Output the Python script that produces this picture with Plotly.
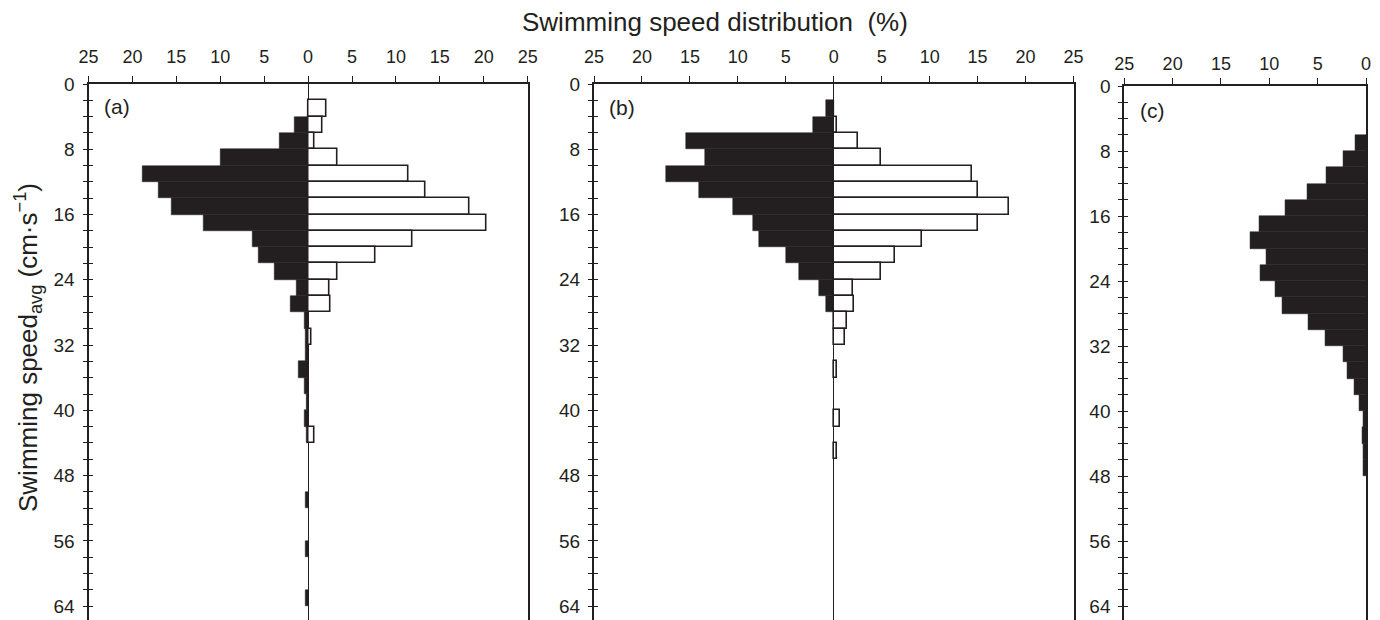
import plotly.graph_objects as go

# ---- data (bins of 2 cm/s, value = % of observations) ----
bin_start = list(range(0, 64, 2))

a_left = [0, 0, 1.5, 3.2, 10.0, 18.8, 17.0, 15.6, 11.9, 6.3, 5.7, 3.8, 1.3, 2.0, 0.4, 0.3,
          0.3, 1.1, 0.4, 0.2, 0.4, 0.2, 0, 0, 0, 0.3, 0, 0, 0.3, 0, 0, 0.3]
a_right = [0, 2.1, 1.6, 0.7, 3.3, 11.4, 13.4, 18.4, 20.3, 11.9, 7.7, 3.3, 2.4, 2.5, 0, 0.4,
           0, 0, 0, 0, 0, 0.75, 0, 0, 0, 0, 0, 0, 0, 0, 0, 0]
b_left = [0, 0.8, 2.2, 15.4, 13.4, 17.5, 14.0, 10.5, 8.4, 7.8, 5.0, 3.6, 1.5, 0.8, 0, 0,
          0, 0, 0, 0, 0, 0, 0, 0, 0, 0, 0, 0, 0, 0, 0, 0]
b_right = [0, 0, 0.3, 2.5, 4.9, 14.4, 15.0, 18.3, 15.0, 9.2, 6.4, 4.9, 2.0, 2.1, 1.4, 1.15,
           0, 0.3, 0, 0, 0.6, 0, 0.3, 0, 0, 0, 0, 0, 0, 0, 0, 0]
c_vals = [0, 0, 0, 1.15, 2.3, 4.1, 6.1, 8.3, 11.0, 12.0, 10.3, 10.9, 9.4, 8.7, 5.95, 4.2,
          2.3, 1.9, 1.2, 0.7, 0.3, 0.4, 0.25, 0.25, 0, 0, 0, 0, 0, 0, 0, 0]

y_ticks = list(range(0, 65, 8))
x_ticks_ab = [-25, -20, -15, -10, -5, 0, 5, 10, 15, 20, 25]
x_ticks_c = [25, 20, 15, 10, 5, 0]

# ---- style ----
W, H = 1380, 620
INK = '#231f20'
FONT = 'Liberation Sans, Arial, Helvetica, sans-serif'
BIN_W = 2
centers = [b + BIN_W / 2 for b in bin_start]


def nz(vals, sign=1):
    return [sign * v if v else None for v in vals]


fig = go.Figure()

black = dict(color=INK, line=dict(color=INK, width=0.5))
white = dict(color='white', line=dict(color=INK, width=1.6))

for left, right, xa, ya in [(a_left, a_right, 'x', 'y'), (b_left, b_right, 'x2', 'y2')]:
    fig.add_trace(go.Bar(y=centers, x=nz(left, -1), orientation='h', width=BIN_W,
                         marker=black, xaxis=xa, yaxis=ya, hoverinfo='skip'))
    fig.add_trace(go.Bar(y=centers, x=nz(right), orientation='h', width=BIN_W,
                         marker=white, xaxis=xa, yaxis=ya, hoverinfo='skip'))
fig.add_trace(go.Bar(y=centers, x=nz(c_vals), orientation='h', width=BIN_W,
                     marker=black, xaxis='x3', yaxis='y3', hoverinfo='skip'))

# invisible traces for the overlay (inside-tick) axes
for xa, ya in [('x', 'y4'), ('x2', 'y5'), ('x3', 'y6')]:
    fig.add_trace(go.Scatter(x=[None], y=[None], xaxis=xa, yaxis=ya,
                             mode='markers', showlegend=False, hoverinfo='skip'))

YR = [65.7, 0]
dom_x = {'a': [88.5 / W, 527.7 / W], 'b': [594 / W, 1073.5 / W], 'c': [1124.3 / W, 1366 / W]}
dom_y_ab = [0, 1 - 84 / H]
dom_y_c = [0, 1 - 86 / H]


def xaxis(domain, anchor, rng, tickvals, zeroline, standoff):
    return dict(domain=domain, anchor=anchor, side='top', range=rng, automargin=False,
                tickvals=tickvals, ticktext=[str(abs(v)) for v in tickvals],
                ticks='outside', ticklen=6, tickwidth=1.3, tickcolor=INK,
                showline=True, linecolor=INK, linewidth=2, mirror=False,
                showgrid=False, zeroline=zeroline, zerolinecolor=INK, zerolinewidth=1,
                tickfont=dict(family=FONT, size=18, color=INK),
                ticklabelstandoff=standoff, fixedrange=True)


def yaxis(domain, anchor):
    return dict(domain=domain, anchor=anchor, range=YR, tickvals=y_ticks, automargin=False,
                ticks='outside', ticklen=4, tickwidth=1.3, tickcolor=INK,
                minor=dict(dtick=2, tick0=0, ticks='outside', ticklen=4, tickwidth=1.3, tickcolor=INK),
                showline=True, linecolor=INK, linewidth=2, mirror=True,
                showgrid=False, zeroline=False, tickfont=dict(family=FONT, size=19, color=INK),
                ticklabelstandoff=4, fixedrange=True)


def yoverlay(base, anchor):
    return dict(overlaying=base, anchor=anchor, side='left', range=YR, tickvals=y_ticks,
                automargin=False,
                ticks='inside', ticklen=4, tickwidth=1.3, tickcolor=INK,
                minor=dict(dtick=2, tick0=0, ticks='inside', ticklen=4, tickwidth=1.3, tickcolor=INK),
                showticklabels=False, showline=False, showgrid=False, zeroline=False,
                fixedrange=True)


fig.update_layout(
    width=W, height=H, margin=dict(l=0, r=0, t=0, b=0, pad=0, autoexpand=False),
    paper_bgcolor='white', plot_bgcolor='white', showlegend=False,
    barmode='overlay', bargap=0,
    font=dict(family=FONT, color=INK),
    xaxis=xaxis(dom_x['a'], 'y', [-25, 25], x_ticks_ab, True, 6),
    xaxis2=xaxis(dom_x['b'], 'y2', [-25, 25], x_ticks_ab, True, 6),
    xaxis3=xaxis(dom_x['c'], 'y3', [25, 0], x_ticks_c, False, 1),
    yaxis=yaxis(dom_y_ab, 'x'),
    yaxis2=yaxis(dom_y_ab, 'x2'),
    yaxis3=yaxis(dom_y_c, 'x3'),
    yaxis4=yoverlay('y', 'x'),
    yaxis5=yoverlay('y2', 'x2'),
    yaxis6=yoverlay('y3', 'x3'),
)

ann = [
    dict(text='Swimming speed distribution  (%)', x=714.6 / W, y=1 - 21.7 / H, size=26, angle=0),
    dict(text='Swimming speed<sub>avg</sub> (cm·s<sup>−1</sup>)', x=28 / W, y=1 - 348 / H, size=26, angle=-90),
    dict(text='(a)', x=117 / W, y=1 - 106.5 / H, size=21, angle=0),
    dict(text='(b)', x=622 / W, y=1 - 107 / H, size=21, angle=0),
    dict(text='(c)', x=1152 / W, y=1 - 110 / H, size=21, angle=0),
]
for a in ann:
    fig.add_annotation(text=a['text'], x=a['x'], y=a['y'], xref='paper', yref='paper',
                       xanchor='center', yanchor='middle', showarrow=False, textangle=a['angle'],
                       font=dict(family=FONT, size=a['size'], color=INK))

fig.write_html('out.html')
